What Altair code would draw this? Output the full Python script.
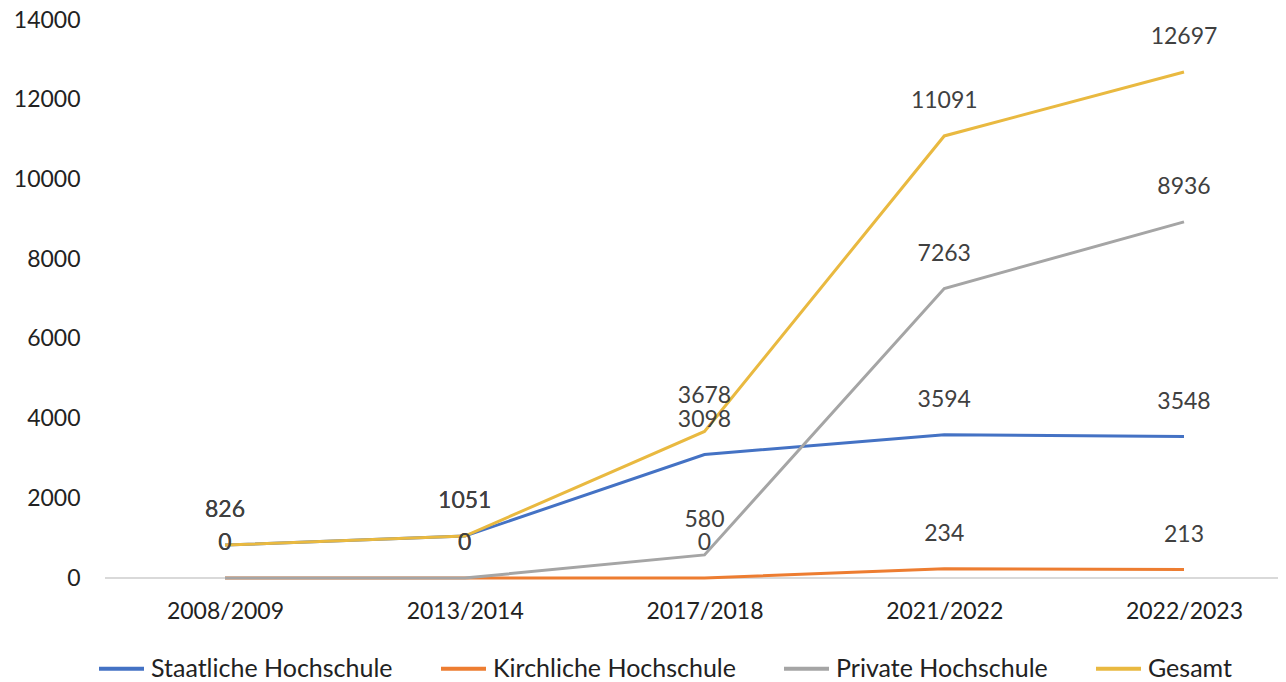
import altair as alt
import pandas as pd

years = ["2008/2009", "2013/2014", "2017/2018", "2021/2022", "2022/2023"]
series = ["Staatliche Hochschule", "Kirchliche Hochschule", "Private Hochschule", "Gesamt"]
staatliche = [826, 1051, 3098, 3594, 3548]
kirchliche = [0, 0, 0, 234, 213]
private = [0, 0, 580, 7263, 8936]
gesamt = [826, 1051, 3678, 11091, 12697]
colors = ["#4472C4", "#ED7D31", "#A5A5A5", "#E9B940"]
y_ticks = [0, 2000, 4000, 6000, 8000, 10000, 12000, 14000]

rows = []
for s, vals in zip(series, [staatliche, kirchliche, private, gesamt]):
    for i, (yr, v) in enumerate(zip(years, vals)):
        rows.append({"Jahr": yr, "Serie": s, "Wert": v, "order": series.index(s)})
df = pd.DataFrame(rows)

FONT = "Lato"
W, H = 1173, 558

y_axis = alt.Axis(title=None, values=y_ticks, grid=False, domain=False, ticks=False,
                  format="d",
                  labelFont=FONT, labelFontSize=23, labelColor="#222222",
                  labelPadding=25)
y_scale = alt.Scale(domain=[0, 14000], nice=False)

x_enc = alt.X("Jahr:O", sort=years,
              scale=alt.Scale(type="point", range=[120, 1079], padding=0),
              axis=alt.Axis(title=None, labelAngle=0, domain=False, ticks=False,
                            labelFont=FONT, labelFontSize=23, labelColor="#222222",
                            labelPadding=22))
y_enc = alt.Y("Wert:Q", scale=y_scale, axis=y_axis)

base = alt.Chart(df)

baseline = alt.Chart(pd.DataFrame({"Wert": [0]})).mark_rule(color="#D9D9D9", strokeWidth=2).encode(
    x=alt.value(0), x2=alt.value(W), y=y_enc
)

lines = base.mark_line(strokeWidth=3).encode(
    x=x_enc, y=y_enc,
    color=alt.Color("Serie:N", sort=series,
                    scale=alt.Scale(domain=series, range=colors),
                    legend=alt.Legend(title=None, orient="none", direction="horizontal",
                                      legendX=-8, legendY=624,
                                      symbolType="stroke", symbolSize=2025, symbolStrokeWidth=4,
                                      labelFont=FONT, labelFontSize=25, labelColor="#222222",
                                      labelLimit=0,
                                      labelOffset=5, columnPadding=40, columns=4)),
    order="order:Q",
    detail="Serie:N",
)

labels = base.mark_text(dy=-35, font=FONT, fontSize=23, color="#404040").encode(
    x=x_enc, y=y_enc, text="Wert:Q"
)

chart = alt.layer(baseline, lines, labels).properties(
    width=W, height=H,
    autosize=alt.AutoSizeParams(type="none"),
    padding={"left": 97, "top": 12, "right": 0, "bottom": 104},
).configure_view(stroke=None)

chart.save("out.html", embed_options={"renderer": "svg", "actions": False})
